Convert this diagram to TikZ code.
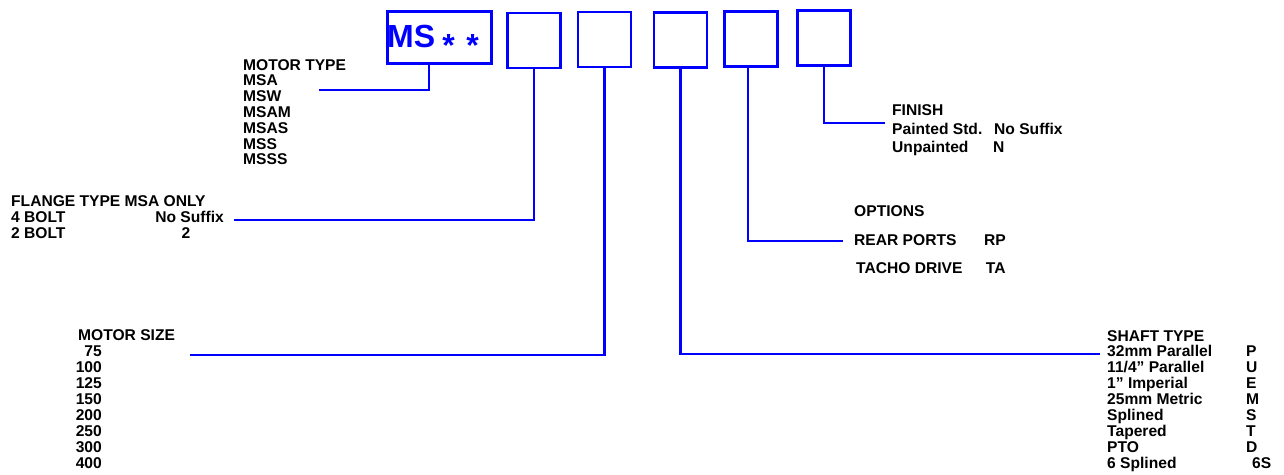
\documentclass[tikz,border=0pt]{standalone}
\usepackage{fontspec}
\setmainfont{Liberation Sans}
\usepackage{xcolor}
\usepackage{tikz}

\begin{document}
\begin{tikzpicture}[x=1pt,y=-1pt,
  codebox/.style={draw=blue,line width=2.8pt,minimum width=53pt,minimum height=55pt,inner sep=0pt},
  link/.style={blue,line width=2.5pt},
  txt/.style={anchor=base west,inner sep=0pt,font=\fontsize{15.6}{16}\selectfont\bfseries},
  big/.style={inner sep=0pt,text=blue,font=\fontsize{32}{32}\selectfont\bfseries}]
  \useasboundingbox (0,0) rectangle (1284,474);
  % code boxes
  \node[codebox,minimum width=104pt,minimum height=52pt] (b0) at (439.5,37.5) {};
  \node[big,anchor=base west] (ms) at (387,47) {MS};
  \node[big,anchor=base] (ast-a) at (448.7,56) {*};
  \node[big,anchor=base] (ast-b) at (472.5,56) {*};
  \node[codebox] (b1) at (534,40.5) {};
  \node[codebox] (b2) at (604.5,39.5) {};
  \node[codebox] (b3) at (680.5,40) {};
  \node[codebox] (b4) at (751,39) {};
  \node[codebox] (b5) at (824,38) {};
  % motor type
  \foreach \t [count=\i from 0] in {MOTOR TYPE,MSA,MSW,MSAM,MSAS,MSS,MSSS}
    \node[txt] (mt-\i) at (243,{70+15.8*\i}) {\t};
  % flange type
  \node[txt] (fl-0) at (11,206.7) {FLANGE TYPE MSA ONLY};
  \node[txt] (fl-1) at (11,222.5) {4 BOLT};
  \node[txt,anchor=base east] (fl-1v) at (224,222.5) {No Suffix};
  \node[txt] (fl-2) at (11,238.3) {2 BOLT};
  \node[txt,anchor=base] (fl-2v) at (186,238.3) {2};
  % motor size
  \node[txt] (sz-0) at (78,340.7) {MOTOR SIZE};
  \foreach \t [count=\i] in {75,100,125,150,200,250,300,400}
    \node[txt,anchor=base east] (sz-\i) at (102,{340.7+15.95*\i}) {\t};
  % shaft type
  \foreach \t [count=\i from 0] in {SHAFT TYPE,32mm Parallel,11/4” Parallel,1” Imperial,25mm Metric,Splined,Tapered,PTO,6 Splined}
    \node[txt] (sh-\i) at (1107,{341+15.9*\i}) {\t};
  \foreach \t [count=\i] in {P,U,E,M,S,T,D}
    \node[txt] (shv-\i) at (1246,{341+15.9*\i}) {\t};
  \node[txt] (shv-8) at (1252,468.2) {6S};
  % options
  \node[txt] (op-0) at (854,216.7) {OPTIONS};
  \node[txt] (op-1) at (854,245) {REAR PORTS};
  \node[txt] (op-1v) at (984,245) {RP};
  \node[txt] (op-2) at (856,273.3) {TACHO DRIVE};
  \node[txt] (op-2v) at (985.7,273.3) {TA};
  % finish
  \node[txt] (fi-0) at (892,115.3) {FINISH};
  \node[txt] (fi-1) at (892,134.5) {Painted Std.};
  \node[txt] (fi-1v) at (994,134.5) {No Suffix};
  \node[txt] (fi-2) at (892,152.5) {Unpainted};
  \node[txt] (fi-2v) at (993,152.5) {N};
  % leader lines
  \coordinate (mt-end) at (319,90);
  \coordinate (fl-end) at (234,220);
  \coordinate (sz-end) at (190,355);
  \coordinate (sh-end) at (1100,354);
  \coordinate (op-end) at (843,241);
  \coordinate (fi-end) at (885,123);
  \draw[link] (b0.south) ++(-10.5,0) |- (mt-end);
  \draw[link] (b1.south) |- (fl-end);
  \draw[link] (b2.south) |- (sz-end);
  \draw[link] (b3.south) |- (sh-end);
  \draw[link] (b4.south) ++(-3,0) |- (op-end);
  \draw[link] (b5.south) |- (fi-end);
\end{tikzpicture}
\end{document}
